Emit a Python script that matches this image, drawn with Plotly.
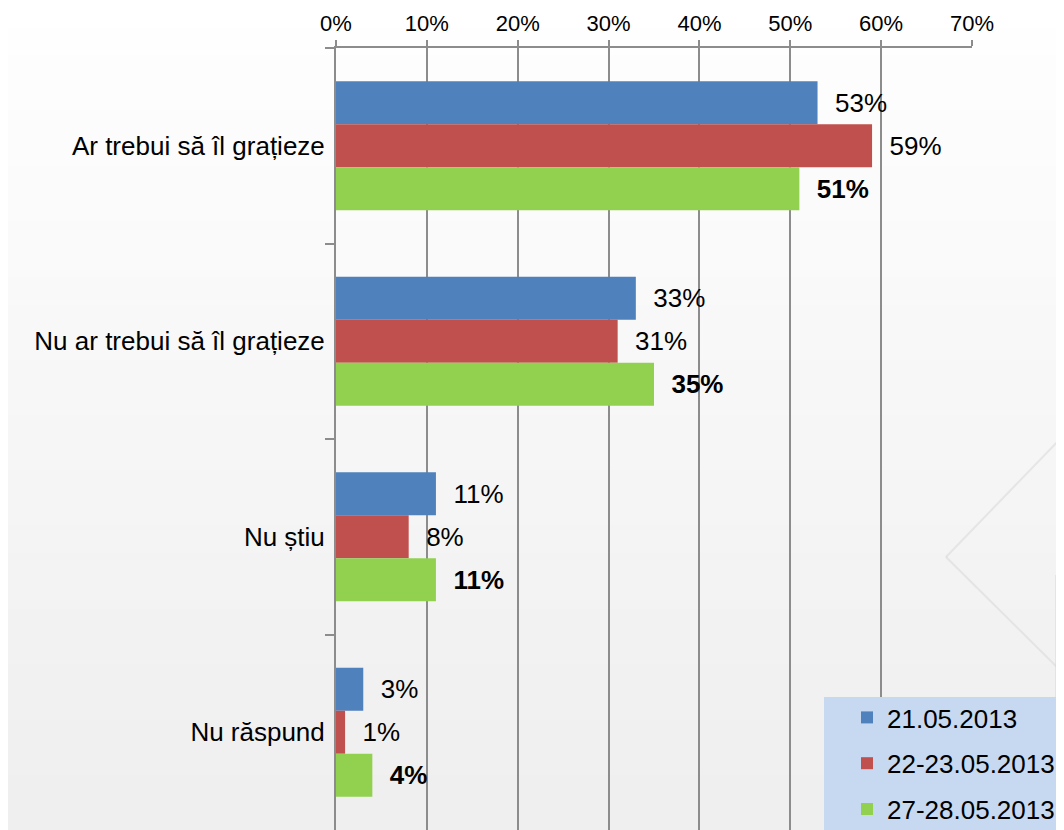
import plotly.graph_objects as go

categories = ["Ar trebui să îl grațieze", "Nu ar trebui să îl grațieze", "Nu știu", "Nu răspund"]
series_names = ["21.05.2013", "22-23.05.2013", "27-28.05.2013"]
vals_21 = [53, 33, 11, 3]
vals_22_23 = [59, 31, 8, 1]
vals_27_28 = [51, 35, 11, 4]
x_ticks = [0, 10, 20, 30, 40, 50, 60, 70]

colors = ["#4f81bd", "#c0504d", "#92d050"]
# the page body adds an 8px margin, so the figure is drawn 8px in from the window edge
OFF = 8
W, H = 1064 - OFF, 830 - OFF
L, R, T, B = 336 - OFF, 92, 48 - OFF, 0

fig = go.Figure()
for i, (name, vals) in enumerate(zip(series_names, [vals_21, vals_22_23, vals_27_28])):
    bold = i == 2
    fig.add_trace(
        go.Bar(
            y=categories,
            x=vals,
            name=name,
            orientation="h",
            marker=dict(color=colors[i], line=dict(width=0)),
            texttemplate=("\u00a0\u00a0<b>%{x}%</b>" if bold else "\u00a0\u00a0%{x}%"),
            textposition="outside",
            constraintext="none",
            cliponaxis=False,
            textfont=dict(size=26, color="black", family="Arial"),
            legendgroup=name,
            hoverinfo="skip",
        )
    )


# window pixel -> paper coords
def px_x(p):
    return (p - OFF - L) / (W - L - R)


def px_y(p):
    return (H - B - (p - OFF)) / (H - T - B)


shapes = []
# soft vertical gradient on the background
n = 30
for k in range(n):
    g = int(255 - 16 * k / (n - 1))
    shapes.append(dict(
        type="rect", xref="paper", yref="paper", layer="below",
        x0=px_x(0), x1=px_x(1070), y0=px_y(k * 830 / n), y1=px_y((k + 1) * 830 / n + 1),
        fillcolor=f"rgb({g},{g},{g})", line=dict(width=0),
    ))
# faint decorative diamond lines at the right
for (xa, ya, xb, yb) in [(1064, 435, 946, 557), (946, 557, 1060, 670), (1056, 575, 1056, 830)]:
    shapes.append(dict(
        type="line", xref="paper", yref="paper", layer="below",
        x0=px_x(xa), y0=px_y(ya), x1=px_x(xb), y1=px_y(yb),
        line=dict(color="rgba(210,210,210,0.45)", width=2),
    ))
# legend box
shapes.append(dict(
    type="rect", xref="paper", yref="paper", layer="above",
    x0=px_x(824), x1=px_x(1070), y0=px_y(697), y1=px_y(835),
    fillcolor="#c6d9f1", line=dict(width=0),
))

fig.update_layout(
    width=W,
    height=H,
    margin=dict(l=L, r=R, t=T, b=B, autoexpand=False),
    paper_bgcolor="white",
    plot_bgcolor="rgba(0,0,0,0)",
    barmode="group",
    bargap=0.34,
    bargroupgap=0,
    font=dict(family="Arial", color="black"),
    shapes=shapes,
    xaxis=dict(
        side="top",
        range=[0, 70],
        tickvals=x_ticks,
        ticktext=[f"{v}%" for v in x_ticks],
        tickfont=dict(size=22),
        showgrid=True,
        gridcolor="#8c8c8c",
        gridwidth=2,
        showline=True,
        linecolor="#8c8c8c",
        linewidth=2,
        ticks="outside",
        ticklen=6,
        tickwidth=2,
        tickcolor="#8c8c8c",
        zeroline=False,
        automargin=False,
        fixedrange=True,
    ),
    yaxis=dict(
        autorange="reversed",
        tickson="boundaries",
        ticks="outside",
        ticklen=9,
        tickwidth=2,
        tickcolor="#8c8c8c",
        showgrid=False,
        showline=True,
        linecolor="#8c8c8c",
        linewidth=2,
        tickfont=dict(size=26),
        ticklabelstandoff=4,
        automargin=False,
        fixedrange=True,
    ),
    legend=dict(
        x=px_x(847),
        xanchor="left",
        y=px_y(694),
        yanchor="top",
        bgcolor="rgba(0,0,0,0)",
        font=dict(size=26),
        traceorder="grouped",
        tracegroupgap=9,
        itemwidth=30,
    ),
)

fig.write_html("out.html")
